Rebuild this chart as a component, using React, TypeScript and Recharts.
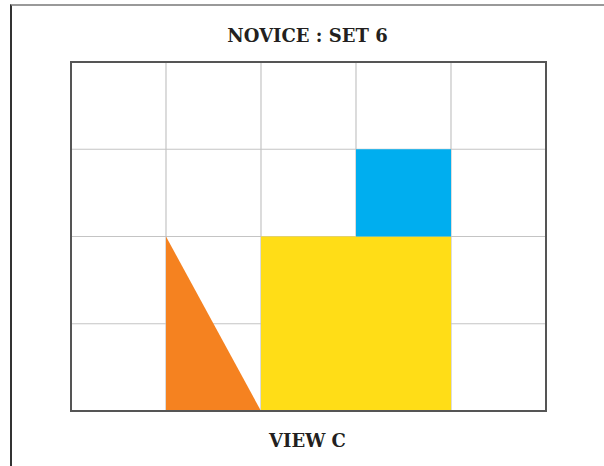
import { ComposedChart, Area, XAxis, YAxis, CartesianGrid, ReferenceArea } from 'recharts';

const columnTicks = [0, 1, 2, 3, 4, 5];
const rowTicks = [0, 1, 2, 3, 4];

// orange triangle: hypotenuse from top of cell edge down to the ground
const triangle = [
  { x: 1, y: 2 },
  { x: 2, y: 0 },
];

const blocks = [
  { name: 'yellow', x1: 2, x2: 4, y1: 0, y2: 2 },
  { name: 'blue', x1: 3, x2: 4, y1: 2, y2: 3 },
];

const blockColors: Record<string, string> = {
  yellow: '#FFDD17',
  blue: '#00AEEF',
};

const title = 'NOVICE : SET 6';
const caption = 'VIEW C';

const textStyle: React.CSSProperties = {
  position: 'absolute',
  left: 11,
  width: 593,
  textAlign: 'center',
  fontFamily: '"DejaVu Serif", serif',
  fontWeight: 'bold',
  fontSize: 18,
  lineHeight: '18px',
  color: '#231f20',
};

export default function App() {
  return (
    <div style={{ position: 'absolute', left: 0, top: 0, width: 604, height: 466, background: '#fff' }}>
      <div
        style={{
          position: 'absolute',
          left: 10,
          top: 4,
          width: 594,
          height: 462,
          borderLeft: '2px solid #333',
          borderTop: '2px solid #999',
        }}
      />
      <div style={{ ...textStyle, top: 27 }}>{title}</div>
      <div style={{ ...textStyle, top: 432 }}>{caption}</div>
      <div style={{ position: 'absolute', left: 0, top: 0 }}>
        <ComposedChart
          width={604}
          height={466}
          data={triangle}
          margin={{ top: 62, right: 58, bottom: 55, left: 71 }}
        >
          <XAxis dataKey="x" type="number" domain={[0, 5]} ticks={columnTicks} hide />
          <YAxis type="number" domain={[0, 4]} ticks={rowTicks} hide width={0} />
          <CartesianGrid stroke="#c4c4c4" strokeWidth={1.2} />
          <Area
            dataKey="y"
            type="linear"
            baseValue={0}
            fill="#F58220"
            fillOpacity={1}
            stroke="none"
            isAnimationActive={false}
            dot={false}
            activeDot={false}
          />
          {blocks.map((b) => (
            <ReferenceArea
              key={b.name}
              x1={b.x1}
              x2={b.x2}
              y1={b.y1}
              y2={b.y2}
              fill={blockColors[b.name]}
              fillOpacity={1}
              stroke="none"
              ifOverflow="visible"
            />
          ))}
          <ReferenceArea
            x1={0}
            x2={5}
            y1={0}
            y2={4}
            fill="none"
            stroke="#555"
            strokeWidth={2}
            ifOverflow="visible"
          />
        </ComposedChart>
      </div>
    </div>
  );
}
